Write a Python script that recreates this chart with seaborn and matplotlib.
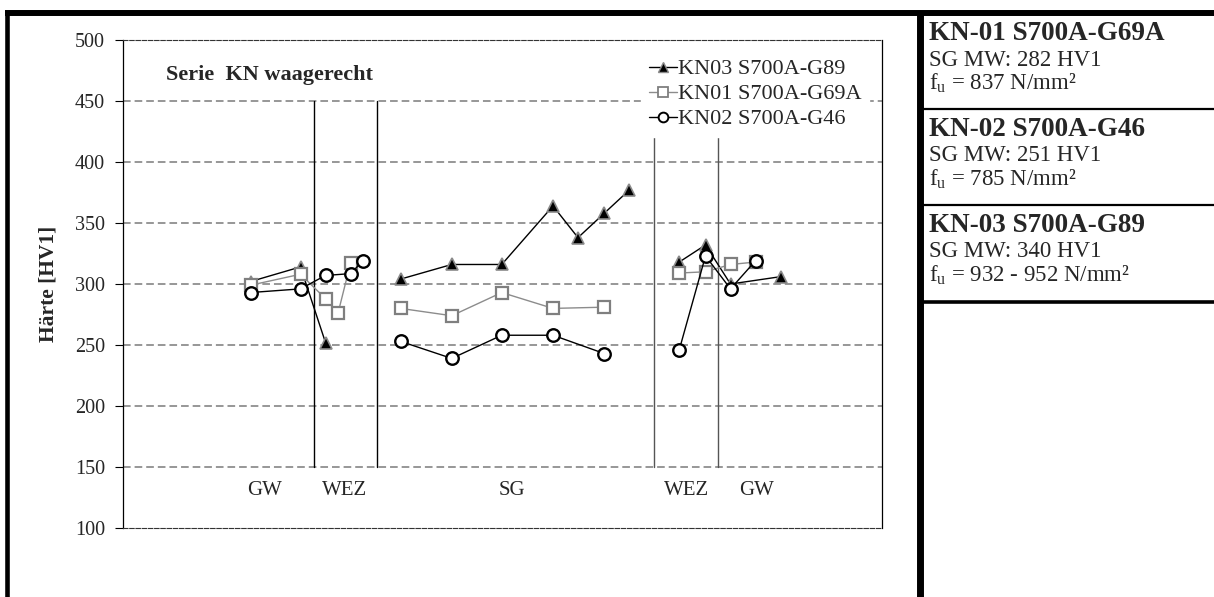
import numpy as np
import pandas as pd
import matplotlib
matplotlib.use("Agg")
import matplotlib.pyplot as plt
import seaborn as sns
from matplotlib.lines import Line2D

# ---------------- data (position in mm, hardness HV1) ----------------
kn03_x = [5.1, 7.1, 8.1, 11.1, 13.15, 15.15, 17.2, 18.2, 19.25, 20.25, 22.25, 23.3, 24.3, 26.3]
kn03_y = [302, 314, 252, 304, 316, 316, 364, 338, 358, 377, 318, 332, 300, 306]
kn03_seg = [0, 0, 0, 1, 1, 1, 1, 1, 1, 1, 2, 2, 2, 2]

kn01_x = [5.1, 7.1, 8.1, 8.6, 9.1, 11.1, 13.15, 15.15, 17.2, 19.25, 22.25, 23.3, 24.3, 25.3]
kn01_y = [299, 308, 288, 276, 317, 280, 274, 293, 280, 281, 309, 310, 316, 318]
kn01_seg = [0, 0, 0, 0, 0, 1, 1, 1, 1, 1, 2, 2, 2, 2]

kn02_x = [5.1, 7.1, 8.1, 9.1, 9.6, 11.1, 13.15, 15.15, 17.2, 19.25, 22.25, 23.3, 24.3, 25.3]
kn02_y = [293, 296, 307, 308.5, 319, 253, 239, 258, 258, 243, 246, 323, 296, 319]
kn02_seg = [0, 0, 0, 0, 0, 1, 1, 1, 1, 1, 2, 2, 2, 2]

series_labels = ["KN03 S700A-G89", "KN01 S700A-G69A", "KN02 S700A-G46"]

zone_bounds_left = [7.65, 10.15]
zone_bounds_right = [21.25, 23.8]
zone_labels = ["GW", "WEZ", "SG", "WEZ", "GW"]
zone_label_x = [5.68, 8.88, 15.56, 22.56, 25.36]

y_ticks = [100, 150, 200, 250, 300, 350, 400, 450, 500]

info_titles = ["KN-01 S700A-G69A", "KN-02 S700A-G46", "KN-03 S700A-G89"]
info_mw = ["SG MW: 282 HV1", "SG MW: 251 HV1", "SG MW: 340 HV1"]
info_fu = ["837 N/mm²", "785 N/mm²", "932 - 952 N/mm²"]

# ---------------- style ----------------
sns.set_style("white")
plt.rcParams["font.family"] = ["Liberation Serif", "DejaVu Serif"]
plt.rcParams["mathtext.fontset"] = "custom"
plt.rcParams["mathtext.rm"] = "Liberation Serif"

W, H = 1214, 597
fig = plt.figure(figsize=(W / 100, H / 100), dpi=100)
fig.patch.set_facecolor("white")

ax_l, ax_r, ax_t, ax_b = 123, 882, 40, 528
ax = fig.add_axes([ax_l / W, 1 - ax_b / H, (ax_r - ax_l) / W, (ax_b - ax_t) / H])
ax.set_facecolor("white")

ax.set_xlim(0, 30.36)
ax.set_ylim(100, 500)

# grid lines
for yv in y_ticks[1:-1]:
    ax.axhline(yv, color="#7a7a7a", lw=1.1, ls=(0, (5, 2.6)), zorder=1)

# spines
for s in ["left", "right"]:
    ax.spines[s].set_color("black")
    ax.spines[s].set_linewidth(0.9)
for s in ["top", "bottom"]:
    ax.spines[s].set_color("#333333")
    ax.spines[s].set_linewidth(0.8)
    ax.spines[s].set_linestyle((0, (4, 1.6)))

ax.set_yticks(y_ticks)
ax.set_yticklabels([str(v) for v in y_ticks], fontsize=14.5)
ax.set_xticks([])
ax.tick_params(axis="y", direction="out", length=6, width=0.8, color="black", pad=7, left=True)

# zone separators
for xv in zone_bounds_left:
    ax.plot([xv, xv], [150, 450], color="black", lw=1.0, zorder=2)
for xv in zone_bounds_right:
    ax.plot([xv, xv], [150, 450], color="#555555", lw=1.0, zorder=2)

# series
df03 = pd.DataFrame({"x": kn03_x, "y": kn03_y, "seg": kn03_seg})
df01 = pd.DataFrame({"x": kn01_x, "y": kn01_y, "seg": kn01_seg})
df02 = pd.DataFrame({"x": kn02_x, "y": kn02_y, "seg": kn02_seg})

sns.lineplot(data=df03, x="x", y="y", units="seg", estimator=None, sort=False, ax=ax,
             color="black", lw=1.0, marker="^", markersize=8,
             markerfacecolor="black", markeredgecolor="#8a8a8a", markeredgewidth=1.2,
             legend=False, zorder=3)
sns.lineplot(data=df01, x="x", y="y", units="seg", estimator=None, sort=False, ax=ax,
             color="#8c8c8c", lw=1.0, marker="s", markersize=8,
             markerfacecolor="white", markeredgecolor="#7f7f7f", markeredgewidth=1.6,
             legend=False, zorder=4)
sns.lineplot(data=df02, x="x", y="y", units="seg", estimator=None, sort=False, ax=ax,
             color="black", lw=1.0, marker="o", markersize=9,
             markerfacecolor="white", markeredgecolor="black", markeredgewidth=1.7,
             legend=False, zorder=5)

ax.set_xlabel("")
ax.set_ylabel("Härte [HV1]", fontsize=15.5, fontweight="bold", labelpad=12)

# zone labels
for lbl, xv in zip(zone_labels, zone_label_x):
    ax.text(xv, 131, lbl, ha="center", va="center", fontsize=15)

ax.text(1.7, 471, "Serie  KN waagerecht", ha="left", va="center", fontsize=16, fontweight="bold")

# legend
h03 = Line2D([], [], color="black", lw=1.0, marker="^", markersize=7,
             markerfacecolor="black", markeredgecolor="#8a8a8a", markeredgewidth=1.0)
h01 = Line2D([], [], color="#8c8c8c", lw=1.0, marker="s", markersize=7,
             markerfacecolor="white", markeredgecolor="#7f7f7f", markeredgewidth=1.3)
h02 = Line2D([], [], color="black", lw=1.0, marker="o", markersize=7,
             markerfacecolor="white", markeredgecolor="black", markeredgewidth=1.4)
leg = ax.legend([h03, h01, h02], series_labels, loc="upper right",
                bbox_to_anchor=(0.998, 1.0), fontsize=16, frameon=True,
                framealpha=1, edgecolor="white", facecolor="white",
                handlelength=1.25, handletextpad=0.06, labelspacing=0.2,
                borderpad=0.35, fancybox=False)
leg.set_zorder(10)

# ---------------- frame lines & info panel ----------------
def fx(px):
    return px / W

def fy(py):
    return 1 - py / H

fig.add_artist(Line2D([fx(7), fx(7)], [0, fy(11)], color="black", lw=3.3, solid_capstyle="butt"))
fig.add_artist(Line2D([fx(5), 1], [fy(13), fy(13)], color="black", lw=4.3, solid_capstyle="butt"))
fig.add_artist(Line2D([fx(920), fx(920)], [0, fy(11)], color="black", lw=5, solid_capstyle="butt"))

row_lines = [109, 205, 302]
row_lw = [1.6, 1.6, 2.6]
for py, lw in zip(row_lines, row_lw):
    fig.add_artist(Line2D([fx(923), 1], [fy(py), fy(py)], color="black", lw=lw, solid_capstyle="butt"))

block_top = [40.5, 136, 232]
for i in range(3):
    b = block_top[i]
    fig.text(fx(929), fy(b), info_titles[i], fontsize=19.5, fontweight="bold", va="baseline", ha="left")
    fig.text(fx(929), fy(b + 25), info_mw[i], fontsize=16.5, va="baseline", ha="left")
    fig.text(fx(929), fy(b + 49), r"f$_{\mathregular{u}}$ = " + info_fu[i], fontsize=16.5,
             va="baseline", ha="left")

fig.savefig("out.png", dpi=100, facecolor="white")
